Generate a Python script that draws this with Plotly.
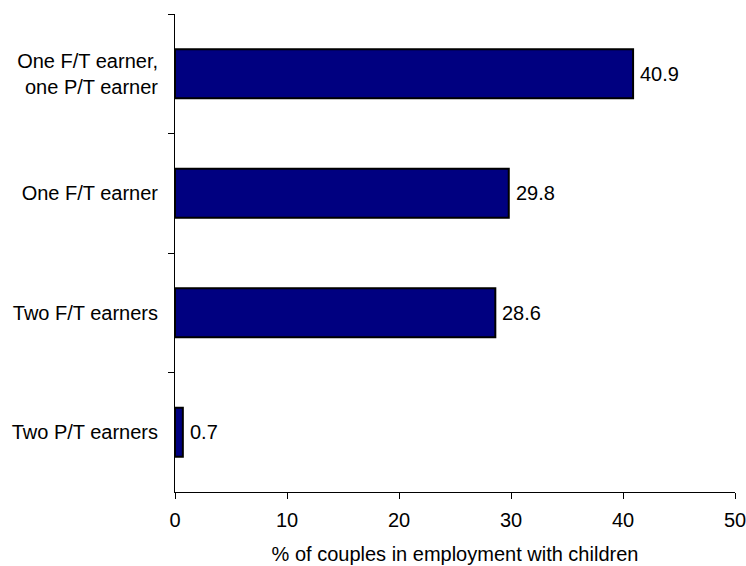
import plotly.graph_objects as go

categories = ["One F/T earner,<br>one P/T earner", "One F/T earner", "Two F/T earners", "Two P/T earners"]
values = [40.9, 29.8, 28.6, 0.7]
x_title = "% of couples in employment with children"

FONT = "Liberation Sans, Arial, sans-serif"
FS = 20

fig = go.Figure()
fig.add_trace(go.Bar(
    y=categories,
    x=values,
    orientation="h",
    marker=dict(color="#000080", line=dict(color="#000000", width=2)),
    width=0.41,
    showlegend=False,
    hoverinfo="skip",
))

for c, v in zip(categories, values):
    fig.add_annotation(
        x=v, y=c, text=f"{v:.1f}", showarrow=False,
        xanchor="left", yanchor="middle", xshift=5,
        font=dict(family=FONT, size=FS, color="#000000"),
    )

fig.update_layout(
    width=746, height=566,
    margin=dict(l=175, r=11, t=14, b=74),
    paper_bgcolor="white", plot_bgcolor="white",
    font=dict(family=FONT, size=FS, color="#000000"),
    bargap=0.59,
)
fig.update_xaxes(
    range=[0, 50], dtick=10, tick0=0,
    showgrid=False, zeroline=False,
    showline=True, linecolor="black", linewidth=1,
    ticks="outside", ticklen=6, tickcolor="black", tickwidth=1,
    ticklabelstandoff=4,
    ticklabeloverflow="allow",
    title=dict(text=x_title, standoff=16, font=dict(family=FONT, size=FS)),
    tickfont=dict(family=FONT, size=FS),
    automargin=False,
)
fig.update_yaxes(
    type="category",
    categoryorder="array", categoryarray=categories,
    autorange="reversed",
    showgrid=False, zeroline=False,
    showline=True, linecolor="black", linewidth=1,
    ticks="outside", ticklen=6, tickcolor="black", tickwidth=1,
    tickson="boundaries",
    ticklabelstandoff=12,
    tickfont=dict(family=FONT, size=FS),
    automargin=False,
)

fig.write_html("out.html")
